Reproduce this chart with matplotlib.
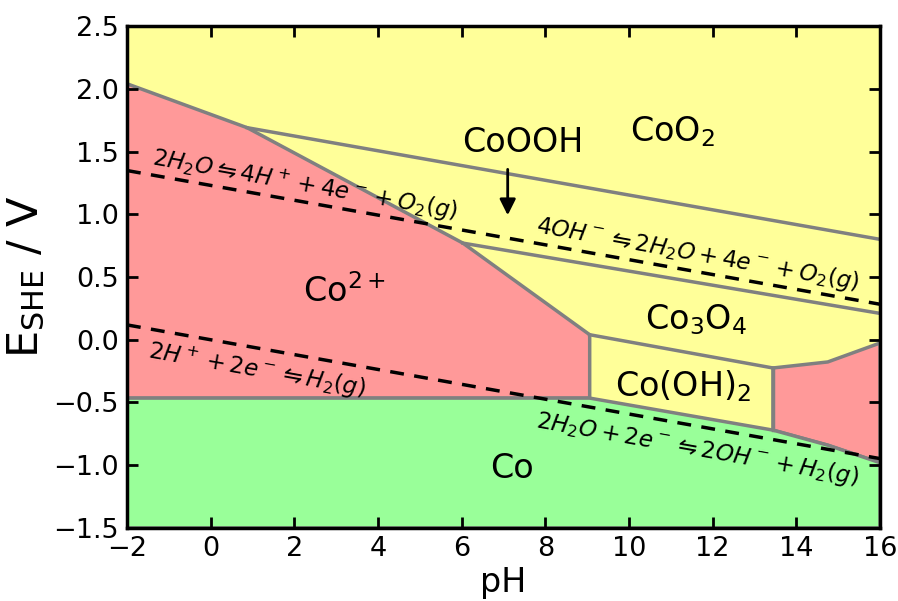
import matplotlib
matplotlib.use("Agg")
import matplotlib.pyplot as plt
from matplotlib.patches import Polygon

# phase boundaries (pH, E / V)
co2p_region = [(-2, 2.04), (0.87, 1.69), (6.03, 0.77), (9.06, 0.04),
               (9.06, -0.465), (-2, -0.465)]
hcoo2_region = [(13.44, -0.225), (14.75, -0.177), (16, -0.026),
                (16, -0.98), (14.75, -0.84), (13.44, -0.72)]
co_region = [(-2, -0.465), (9.06, -0.465), (13.44, -0.72), (14.75, -0.84),
             (16, -0.98), (16, -1.5), (-2, -1.5)]
coo2_coooh = [(0.87, 1.69), (16, 0.80)]
coooh_co3o4 = [(6.03, 0.77), (16, 0.21)]
co3o4_cooh2 = [(9.06, 0.04), (13.44, -0.225)]
cooh2_hcoo2 = [(13.44, -0.225), (13.44, -0.72)]

# water stability limits
ph_water = [-2, 16]
e_o2 = [1.23 - 0.0592 * p for p in ph_water]
e_h2 = [-0.0592 * p for p in ph_water]

yellow = "#ffff99"
red = "#ff9999"
green = "#99ff99"
gray = "#808080"

fig = plt.figure(figsize=(8.98, 6.01), dpi=100)
ax = fig.add_axes([0.1414, 0.1215, 0.8386, 0.8352])
ax.set_facecolor(yellow)

ax.add_patch(Polygon(co2p_region, closed=True, fc=red, ec=gray, lw=2.5, zorder=1))
ax.add_patch(Polygon(hcoo2_region, closed=True, fc=red, ec=gray, lw=2.5, zorder=1))
ax.add_patch(Polygon(co_region, closed=True, fc=green, ec=gray, lw=2.5, zorder=1))
for seg in (coo2_coooh, coooh_co3o4, co3o4_cooh2, cooh2_hcoo2):
    xs, ys = zip(*seg)
    ax.plot(xs, ys, color=gray, lw=2.5, zorder=2)

ax.plot(ph_water, e_o2, "k--", lw=2.5, dashes=(4, 3), zorder=3)
ax.plot(ph_water, e_h2, "k--", lw=2.5, dashes=(4, 3), zorder=3)

lab = dict(fontsize=24, ha="center", va="center", zorder=4)
ax.text(11.05, 1.66, "CoO$_2$", **lab)
ax.text(7.45, 1.57, "CoOOH", **lab)
ax.text(3.2, 0.38, "Co$^{2+}$", **lab)
ax.text(11.6, 0.16, "Co$_3$O$_4$", **lab)
ax.text(11.3, -0.37, "Co(OH)$_2$", **lab)
ax.text(7.2, -1.03, "Co", **lab)
ax.annotate("", xy=(7.1, 0.97), xytext=(7.1, 1.38),
            arrowprops=dict(arrowstyle="-|>", color="k", lw=2, mutation_scale=24))

rx = dict(fontsize=16.5, ha="center", va="center", rotation=-10.1, zorder=4)
ax.text(2.25, 1.23, r"$2H_2O\leftrightharpoons 4H^+ + 4e^- + O_2(g)$", **rx)
ax.text(11.64, 0.68, r"$4OH^-\leftrightharpoons 2H_2O + 4e^- + O_2(g)$", **rx)
ax.text(1.1, -0.24, r"$2H^+ + 2e^-\leftrightharpoons H_2(g)$", **rx)
ax.text(11.64, -0.87, r"$2H_2O + 2e^-\leftrightharpoons 2OH^- + H_2(g)$", **rx)

ax.set_xlim(-2, 16)
ax.set_ylim(-1.5, 2.5)
ax.set_xticks(range(-2, 17, 2))
ax.set_yticks([-1.5, -1.0, -0.5, 0.0, 0.5, 1.0, 1.5, 2.0, 2.5])
ax.tick_params(direction="in", length=8, width=2, labelsize=19.5,
               top=True, right=True, pad=6)
for s in ax.spines.values():
    s.set_linewidth(2.5)
ax.set_xlabel("pH", fontsize=24, labelpad=3)
ax.set_ylabel(r"E$_{\mathrm{SHE}}$ / V", fontsize=31, labelpad=4)

fig.savefig("out.png", dpi=100)
